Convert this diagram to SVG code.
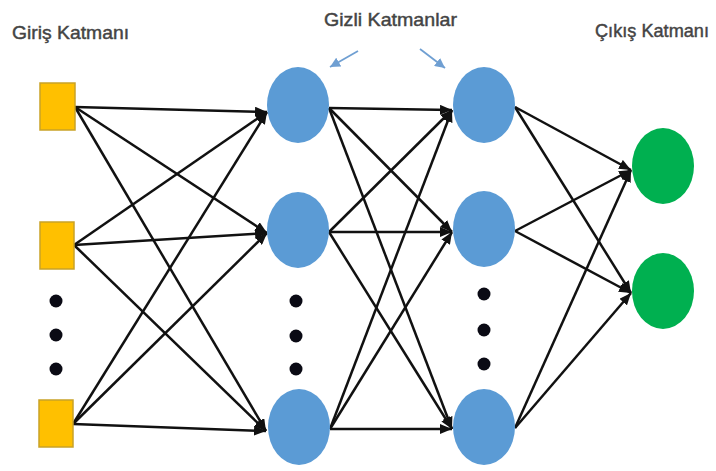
<svg xmlns="http://www.w3.org/2000/svg" width="716" height="471" viewBox="0 0 716 471">
<style>
.lbl{font-family:"Liberation Sans","Open Sans",sans-serif;font-size:19px;fill:#444;stroke:#444;stroke-width:0.45}
.inp{fill:#FFC000;stroke:#C9A227;stroke-width:1.5}
.hid{fill:#5B9BD5}
.out{fill:#00B050}
.dot{fill:#0a0a14}
.edge{stroke:#111;stroke-width:2.5;fill:none;marker-end:url(#ah)}
.hint{stroke:#6F9FD2;stroke-width:1.8;fill:none;marker-end:url(#ah2)}
</style>
<defs>
<marker id="ah" markerUnits="userSpaceOnUse" markerWidth="13" markerHeight="10" refX="12" refY="5" orient="auto">
<path d="M0,0 L12,5 L0,10 z" fill="#111"/>
</marker>
<marker id="ah2" markerUnits="userSpaceOnUse" markerWidth="11" markerHeight="10" refX="10" refY="5" orient="auto">
<path d="M0,0 L10,5 L0,10 z" fill="#6F9FD2"/>
</marker>
</defs>
<rect width="716" height="471" fill="#fff"/>
<g id="labels">
<text class="lbl" x="12" y="39" textLength="117" lengthAdjust="spacingAndGlyphs">Giriş Katmanı</text>
<text class="lbl" x="324" y="26" textLength="133" lengthAdjust="spacingAndGlyphs">Gizli Katmanlar</text>
<text class="lbl" x="595" y="37" textLength="114" lengthAdjust="spacingAndGlyphs">Çıkış Katmanı</text>
</g>
<g id="connectors">
<line class="hint" x1="358" y1="51" x2="330" y2="67"/>
<line class="hint" x1="420" y1="49" x2="445" y2="68"/>
<line class="edge" x1="75" y1="107" x2="267" y2="112"/>
<line class="edge" x1="75" y1="107" x2="267" y2="233"/>
<line class="edge" x1="75" y1="107" x2="266" y2="431"/>
<line class="edge" x1="74" y1="245" x2="267" y2="112"/>
<line class="edge" x1="74" y1="245" x2="267" y2="233"/>
<line class="edge" x1="74" y1="245" x2="266" y2="431"/>
<line class="edge" x1="73" y1="424" x2="267" y2="112"/>
<line class="edge" x1="73" y1="424" x2="267" y2="233"/>
<line class="edge" x1="73" y1="424" x2="266" y2="431"/>
<line class="edge" x1="329" y1="108" x2="452" y2="110"/>
<line class="edge" x1="329" y1="108" x2="452" y2="232"/>
<line class="edge" x1="329" y1="108" x2="452" y2="429"/>
<line class="edge" x1="329" y1="232" x2="452" y2="110"/>
<line class="edge" x1="329" y1="232" x2="452" y2="232"/>
<line class="edge" x1="329" y1="232" x2="452" y2="429"/>
<line class="edge" x1="330" y1="429" x2="452" y2="110"/>
<line class="edge" x1="330" y1="429" x2="452" y2="232"/>
<line class="edge" x1="330" y1="429" x2="452" y2="429"/>
<line class="edge" x1="515" y1="107" x2="631" y2="170"/>
<line class="edge" x1="515" y1="107" x2="631" y2="293"/>
<line class="edge" x1="515" y1="231" x2="631" y2="170"/>
<line class="edge" x1="515" y1="231" x2="631" y2="293"/>
<line class="edge" x1="515" y1="428" x2="631" y2="170"/>
<line class="edge" x1="515" y1="428" x2="631" y2="293"/>
</g>
<g id="in1"><rect class="inp" x="40" y="83" width="35" height="47"/></g>
<g id="in2"><rect class="inp" x="40" y="222" width="34" height="47"/></g>
<g id="in3"><rect class="inp" x="39" y="400" width="34" height="47"/></g>
<g id="in-dots"><circle class="dot" cx="56" cy="301" r="6.5"/><circle class="dot" cx="56" cy="335" r="6.5"/><circle class="dot" cx="56" cy="369" r="6.5"/></g>
<g id="h1a"><ellipse class="hid" cx="298" cy="105" rx="31" ry="38"/></g>
<g id="h1b"><ellipse class="hid" cx="298" cy="230" rx="31" ry="38"/></g>
<g id="h1c"><ellipse class="hid" cx="299" cy="427" rx="31" ry="38"/></g>
<g id="h1-dots"><circle class="dot" cx="296" cy="301" r="6.5"/><circle class="dot" cx="296" cy="336" r="6.5"/><circle class="dot" cx="296" cy="369" r="6.5"/></g>
<g id="h2a"><ellipse class="hid" cx="484" cy="105" rx="31" ry="38"/></g>
<g id="h2b"><ellipse class="hid" cx="484" cy="229" rx="31" ry="38"/></g>
<g id="h2c"><ellipse class="hid" cx="484" cy="427" rx="31" ry="38"/></g>
<g id="h2-dots"><circle class="dot" cx="484" cy="294" r="6.5"/><circle class="dot" cx="484" cy="330" r="6.5"/><circle class="dot" cx="484" cy="364" r="6.5"/></g>
<g id="o1"><ellipse class="out" cx="663" cy="166" rx="31" ry="38"/></g>
<g id="o2"><ellipse class="out" cx="663" cy="291" rx="31" ry="38"/></g>
</svg>
